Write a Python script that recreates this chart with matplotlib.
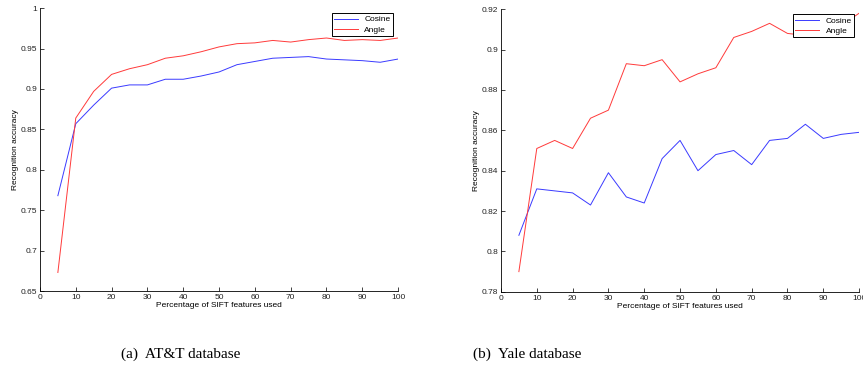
import matplotlib
matplotlib.use("Agg")
from matplotlib import pyplot as plt

# percentage of SIFT features used
pct = [5, 10, 15, 20, 25, 30, 35, 40, 45, 50, 55, 60, 65, 70, 75, 80, 85, 90, 95, 100]

# AT&T database
att_cosine = [0.768, 0.857, 0.880, 0.901, 0.905, 0.905, 0.912, 0.912, 0.916, 0.921,
              0.930, 0.934, 0.938, 0.939, 0.940, 0.937, 0.936, 0.935, 0.933, 0.937]
att_angle = [0.673, 0.864, 0.897, 0.918, 0.925, 0.930, 0.938, 0.941, 0.946, 0.952,
             0.956, 0.957, 0.960, 0.958, 0.961, 0.963, 0.960, 0.961, 0.960, 0.963]

# Yale database
yale_cosine = [0.808, 0.831, 0.830, 0.829, 0.823, 0.839, 0.827, 0.824, 0.846, 0.855,
               0.840, 0.848, 0.850, 0.843, 0.855, 0.856, 0.863, 0.856, 0.858, 0.859]
yale_angle = [0.790, 0.851, 0.855, 0.851, 0.866, 0.870, 0.893, 0.892, 0.895, 0.884,
              0.888, 0.891, 0.906, 0.909, 0.913, 0.908, 0.907, 0.908, 0.912, 0.918]

att_yticks = [0.65, 0.7, 0.75, 0.8, 0.85, 0.9, 0.95, 1]
att_ylabels = ["0.65", "0.7", "0.75", "0.8", "0.85", "0.9", "0.95", "1"]
yale_yticks = [0.78, 0.8, 0.82, 0.84, 0.86, 0.88, 0.9, 0.92]
yale_ylabels = ["0.78", "0.8", "0.82", "0.84", "0.86", "0.88", "0.9", "0.92"]
xticks = list(range(0, 101, 10))

plt.rcParams['font.family'] = ['Liberation Sans', 'DejaVu Sans']

fig = plt.figure(figsize=(8.63, 3.68), dpi=100)

panels = [
    ([0.0463, 0.209, 0.415, 0.769], att_cosine, att_angle, (0.65, 1.0), att_yticks, att_ylabels),
    ([0.5805, 0.207, 0.415, 0.768], yale_cosine, yale_angle, (0.78, 0.92), yale_yticks, yale_ylabels),
]

for rect, cos_vals, ang_vals, ylim, yt, ytl in panels:
    ax = fig.add_axes(rect)
    ax.plot(pct, cos_vals, color="#3a3aff", lw=0.7, label="Cosine")
    ax.plot(pct, ang_vals, color="#ff3a3a", lw=0.7, label="Angle")
    ax.set_xlim(0, 100)
    ax.set_ylim(*ylim)
    ax.set_xticks(xticks)
    ax.set_yticks(yt)
    ax.set_yticklabels(ytl)
    ax.spines["top"].set_visible(False)
    ax.spines["right"].set_visible(False)
    ax.spines["left"].set_linewidth(0.6)
    ax.spines["bottom"].set_linewidth(0.6)
    ax.tick_params(direction="in", length=3, width=0.6, labelsize=6, pad=2, colors="#222222")
    ax.set_xlabel("Percentage of SIFT features used", fontsize=6, labelpad=1)
    ax.set_ylabel("Recognition accuracy", fontsize=6, labelpad=1)
    leg = ax.legend(loc="upper right", fontsize=6, fancybox=False, framealpha=1,
                    edgecolor="black", handlelength=2.8, borderpad=0.3,
                    labelspacing=0.3, borderaxespad=0.6)
    leg.get_frame().set_linewidth(0.7)

fig.text(0.209, 0.028, "(a)  AT&T database", fontsize=11, family="Liberation Serif", ha="center")
fig.text(0.611, 0.028, "(b)  Yale database", fontsize=11, family="Liberation Serif", ha="center")

plt.savefig("out.png", dpi=100)
